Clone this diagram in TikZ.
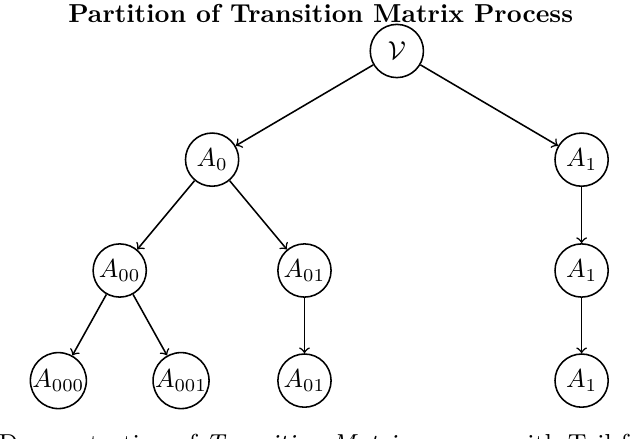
\documentclass[tikz,border=0pt]{standalone}
\usepackage{tikz}
\usetikzlibrary{arrows,positioning}
\usepackage{amsfonts}
\usepackage{amsmath}
\usepackage{amssymb}

\begin{document}
\begin{tikzpicture}[semithick,part/.style={circle,draw,inner sep=0pt,minimum size=7.2mm}]
\useasboundingbox (-5.37,-5.25) rectangle (3.29,0.69);
\node[anchor=base] (title) at (-1.03,0.39) {\textbf{Partition of Transition Matrix Process}};
\node[part] (v) at (0,0) {$\mathcal{V}$};
\node[part] (a0) at (-2.5,-1.47) {$A_0$};
\node[part] (a1) at (2.5,-1.47) {$A_1$};
\node[part] (a00) at (-3.75,-2.97) {$A_{00}$};
\node[part] (a01) at (-1.25,-2.97) {$A_{01}$};
\node[part] (a1b) at (2.5,-2.97) {$A_1$};
\node[part] (a000) at (-4.58,-4.46) {$A_{000}$};
\node[part] (a001) at (-2.92,-4.46) {$A_{001}$};
\node[part] (a01b) at (-1.25,-4.46) {$A_{01}$};
\node[part] (a1c) at (2.5,-4.46) {$A_1$};
\draw[->] (v) -- (a0);
\draw[->] (v) -- (a1);
\draw[->] (a0) -- (a00);
\draw[->] (a0) -- (a01);
\draw[->] (a1) -- (a1b);
\draw[->] (a00) -- (a000);
\draw[->] (a00) -- (a001);
\draw[->] (a01) -- (a01b);
\draw[->] (a1b) -- (a1c);
\node[anchor=base west,inner sep=0pt] (caption) at (-5.40,-5.43) {Demonstration of \textit{Transition Matrix} process with Tail for};
\end{tikzpicture}
\end{document}
